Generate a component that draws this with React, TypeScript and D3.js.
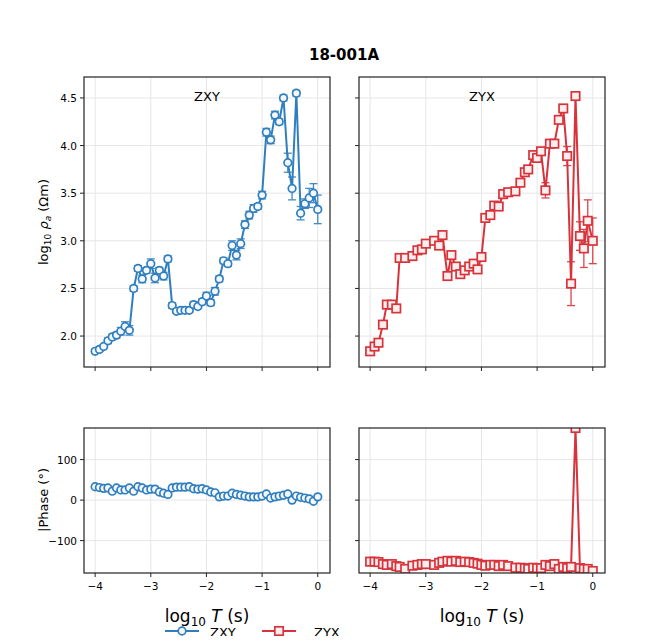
import React from "react";
import * as d3 from "d3";

// ZXY: 13 periods per decade, log10 T from -4 to 0
const zxyLogT = d3.range(53).map((i) => -4 + i / 13);
const zxyRho = [
  1.84, 1.86, 1.89, 1.95, 1.99, 2.01, 2.05, 2.1, 2.06, 2.5, 2.71, 2.6, 2.69,
  2.76, 2.61, 2.69, 2.63, 2.81, 2.32, 2.26, 2.27, 2.27, 2.27, 2.33, 2.31, 2.36,
  2.42, 2.35, 2.47, 2.6, 2.79, 2.76, 2.95, 2.85, 2.97, 3.17, 3.27, 3.34, 3.36,
  3.48, 4.14, 4.06, 4.32, 4.25, 4.5, 3.82, 3.55, 4.55, 3.29, 3.39, 3.45, 3.5,
  3.33,
];
const zxyErr = [
  0.02, 0.02, 0.02, 0.03, 0.03, 0.03, 0.04, 0.05, 0.05, 0.03, 0.03, 0.04, 0.03,
  0.05, 0.05, 0.03, 0.04, 0.03, 0.03, 0.02, 0.02, 0.02, 0.02, 0.03, 0.02, 0.03,
  0.04, 0.03, 0.04, 0.03, 0.03, 0.03, 0.05, 0.05, 0.05, 0.04, 0.04, 0.04, 0.03,
  0.04, 0.04, 0.04, 0.04, 0.03, 0.03, 0.1, 0.12, 0.03, 0.07, 0.05, 0.1, 0.1,
  0.15,
];
const zxyPhase = [
  33, 31, 29, 30, 22, 30, 25, 25, 30, 22, 33, 30, 25, 27, 27, 20, 17, 14, 30, 32,
  32, 32, 33, 28, 27, 28, 25, 20, 18, 8, 10, 10, 17, 14, 12, 10, 8, 8, 8, 10, 15,
  5, 8, 10, 12, 15, 0, 10, 7, 5, 3, -3, 8,
];

const zyxLogT = [
  -4.0, -3.92, -3.85, -3.77, -3.7, -3.61, -3.53, -3.47, -3.37, -3.24, -3.15,
  -3.07, -3.0, -2.85, -2.76, -2.7, -2.61, -2.54, -2.46, -2.38, -2.3, -2.22,
  -2.14, -2.07, -2.0, -1.93, -1.84, -1.77, -1.69, -1.61, -1.52, -1.39, -1.3,
  -1.22, -1.16, -1.07, -1.0, -0.93, -0.85, -0.77, -0.69, -0.61, -0.53, -0.46,
  -0.39, -0.31, -0.23, -0.16, -0.09, 0.0,
];
const zyxRho = [
  1.84, 1.89, 1.93, 2.12, 2.33, 2.33, 2.29, 2.82, 2.82, 2.84, 2.9, 2.91, 2.97,
  3.0, 2.95, 3.06, 2.63, 2.85, 2.73, 2.65, 2.69, 2.73, 2.76, 2.7, 2.83, 3.24,
  3.27, 3.37, 3.36, 3.49, 3.51, 3.52, 3.61, 3.72, 3.75, 3.9, 3.87, 3.94, 3.53,
  4.02, 4.02, 4.27, 4.39, 3.89, 2.55, 4.52, 3.05, 2.92, 3.21, 3.0,
];
const zyxErr = [
  0.02, 0.02, 0.02, 0.02, 0.02, 0.02, 0.02, 0.02, 0.02, 0.02, 0.02, 0.02, 0.02,
  0.02, 0.02, 0.02, 0.02, 0.02, 0.02, 0.02, 0.02, 0.02, 0.02, 0.02, 0.02, 0.02,
  0.02, 0.02, 0.02, 0.02, 0.02, 0.02, 0.02, 0.02, 0.02, 0.02, 0.02, 0.02, 0.08,
  0.03, 0.03, 0.02, 0.02, 0.1, 0.23, 0.03, 0.15, 0.2, 0.22, 0.24,
];
const zyxPhase = [
  -152, -152, -153, -158, -160, -158, -163, -165, -170, -162, -160, -158, -158,
  -160, -155, -152, -150, -152, -150, -153, -152, -153, -155, -157, -160, -162,
  -160, -160, -163, -160, -163, -167, -167, -168, -170, -167, -168, -168, -160,
  -163, -158, -170, -165, -168, -165, 178, -168, -170, -170, -175,
];

const xTicks = [-4, -3, -2, -1, 0];
const rhoTicks = [2.0, 2.5, 3.0, 3.5, 4.0, 4.5];
const phaseTicks = [-100, 0, 100];

const BLUE = "#2f7fbf";
const RED = "#d8333b";
const FONT = "DejaVu Sans, sans-serif";

type Panel = {
  x0: number;
  name: string;
  logT: number[];
  rho: number[];
  err: number[];
  phase: number[];
  color: string;
  marker: "circle" | "square";
  labels: boolean;
};

const panels: Panel[] = [
  { x0: 84, name: "ZXY", logT: zxyLogT, rho: zxyRho, err: zxyErr, phase: zxyPhase, color: BLUE, marker: "circle", labels: true },
  { x0: 359, name: "ZYX", logT: zyxLogT, rho: zyxRho, err: zyxErr, phase: zyxPhase, color: RED, marker: "square", labels: false },
];

const W = 246;
const top1 = 77, bot1 = 367, top2 = 428, bot2 = 573;

function Marker({ kind, x, y, color }: { kind: string; x: number; y: number; color: string }) {
  if (kind === "circle")
    return <circle cx={x} cy={y} r={3.8} fill="#f4f8fc" stroke={color} strokeWidth={1.7} />;
  return <rect x={x - 4.2} y={y - 4.2} width={8.4} height={8.4} fill="#fbeeee" stroke={color} strokeWidth={1.7} />;
}

function PanelView({ p }: { p: Panel }) {
  const x = d3.scaleLinear().domain([-4.2, 0.22]).range([p.x0, p.x0 + W]);
  const y = d3.scaleLinear().domain([1.675, 4.72]).range([bot1, top1]);
  const yp = d3.scaleLinear().domain([-180, 178]).range([bot2, top2]);
  const line = d3.line<number>().x((_, i) => x(p.logT[i])).y((d) => y(d));
  const lineP = d3.line<number>().x((_, i) => x(p.logT[i])).y((d) => yp(d));
  const grid = "#e6e6e6";
  return (
    <g fontFamily={FONT}>
      <defs>
        <clipPath id={`c${p.name}`}>
          <rect x={p.x0} y={top2} width={W} height={bot2 - top2} />
        </clipPath>
      </defs>
      {xTicks.map((t) => (
        <g key={t}>
          <line x1={x(t)} x2={x(t)} y1={top1} y2={bot1} stroke={grid} />
          <line x1={x(t)} x2={x(t)} y1={top2} y2={bot2} stroke={grid} />
          <line x1={x(t)} x2={x(t)} y1={bot1} y2={bot1 + 4} stroke="#222" />
          <line x1={x(t)} x2={x(t)} y1={bot2} y2={bot2 + 4} stroke="#222" />
          <text x={x(t)} y={bot2 + 17} fontSize={10.5} textAnchor="middle">
            {t < 0 ? `\u2212${-t}` : t}
          </text>
        </g>
      ))}
      {rhoTicks.map((t) => (
        <g key={t}>
          <line x1={p.x0} x2={p.x0 + W} y1={y(t)} y2={y(t)} stroke={grid} />
          <line x1={p.x0 - 4} x2={p.x0} y1={y(t)} y2={y(t)} stroke="#222" />
          {p.labels && (
            <text x={p.x0 - 7} y={y(t) + 4} fontSize={10.5} textAnchor="end">{t.toFixed(1)}</text>
          )}
        </g>
      ))}
      {phaseTicks.map((t) => (
        <g key={t}>
          <line x1={p.x0} x2={p.x0 + W} y1={yp(t)} y2={yp(t)} stroke={grid} />
          <line x1={p.x0 - 4} x2={p.x0} y1={yp(t)} y2={yp(t)} stroke="#222" />
          {p.labels && (
            <text x={p.x0 - 7} y={yp(t) + 4} fontSize={10.5} textAnchor="end">{t < 0 ? `\u2212${-t}` : t}</text>
          )}
        </g>
      ))}
      <text x={p.x0 + W / 2} y={101} fontSize={13} textAnchor="middle">{p.name}</text>
      {/* error bars */}
      {p.rho.map((v, i) => (
        <g key={i} stroke={p.color} strokeWidth={1.3} opacity={0.9}>
          <line x1={x(p.logT[i])} x2={x(p.logT[i])} y1={y(v - p.err[i])} y2={y(v + p.err[i])} />
          <line x1={x(p.logT[i]) - 4} x2={x(p.logT[i]) + 4} y1={y(v - p.err[i])} y2={y(v - p.err[i])} />
          <line x1={x(p.logT[i]) - 4} x2={x(p.logT[i]) + 4} y1={y(v + p.err[i])} y2={y(v + p.err[i])} />
        </g>
      ))}
      <path d={line(p.rho) ?? ""} fill="none" stroke={p.color} strokeWidth={2} />
      {p.rho.map((v, i) => (
        <Marker key={i} kind={p.marker} x={x(p.logT[i])} y={y(v)} color={p.color} />
      ))}
      <g clipPath={`url(#c${p.name})`}>
        <path d={lineP(p.phase) ?? ""} fill="none" stroke={p.color} strokeWidth={2} />
        {p.phase.map((v, i) => (
          <Marker key={i} kind={p.marker} x={x(p.logT[i])} y={yp(v)} color={p.color} />
        ))}
      </g>
      <rect x={p.x0} y={top1} width={W} height={bot1 - top1} fill="none" stroke="#222" strokeWidth={1.2} />
      <rect x={p.x0} y={top2} width={W} height={bot2 - top2} fill="none" stroke="#222" strokeWidth={1.2} />
      <text x={p.x0 + W / 2} y={622} fontSize={17} textAnchor="middle">
        log<tspan fontSize={12} dy={4}>10</tspan>
        <tspan dy={-4}> </tspan>
        <tspan fontStyle="italic">T</tspan> (s)
      </text>
    </g>
  );
}

export default function App() {
  return (
    <svg width={672} height={644} style={{ display: "block", margin: -8 }} fontFamily={FONT}>
      <rect width={672} height={644} fill="white" />
      <text x={344} y={60} fontSize={15} fontWeight="bold" textAnchor="middle">18-001A</text>
      {panels.map((p) => (
        <PanelView key={p.name} p={p} />
      ))}
      <text transform="translate(48,222) rotate(-90)" fontSize={13} textAnchor="middle">
        log<tspan fontSize={9} dy={3}>10</tspan>
        <tspan dy={-3} fontStyle="italic"> ρ</tspan>
        <tspan fontSize={9} dy={3} fontStyle="italic">a</tspan>
        <tspan dy={-3}> (Ωm)</tspan>
      </text>
      <text transform="translate(48,500) rotate(-90)" fontSize={13} textAnchor="middle">|Phase (°)</text>
      <g>
        <line x1={165} x2={199} y1={631} y2={631} stroke={BLUE} strokeWidth={2} />
        <Marker kind="circle" x={182} y={631} color={BLUE} />
        <text x={210} y={637} fontSize={13}>ZXY</text>
        <line x1={262} x2={296} y1={631} y2={631} stroke={RED} strokeWidth={2} />
        <Marker kind="square" x={279} y={631} color={RED} />
        <text x={314} y={637} fontSize={13}>ZYX</text>
      </g>
    </svg>
  );
}
